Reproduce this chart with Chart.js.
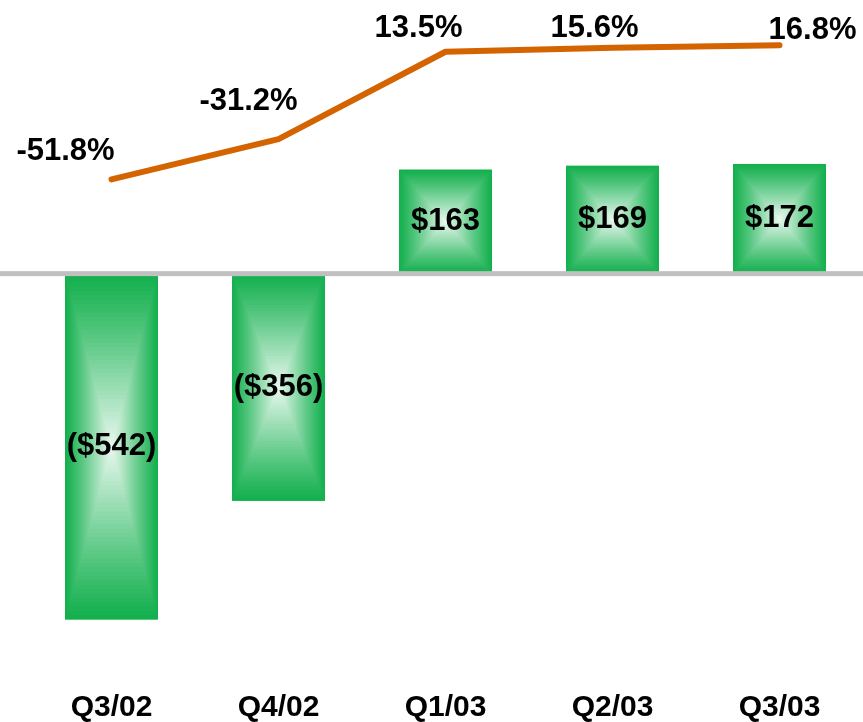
<!DOCTYPE html>
<html>
<head>
<meta charset="utf-8">
<script src="https://cdn.jsdelivr.net/npm/chart.js@4/dist/chart.umd.min.js"></script>
<style>
    html, body { margin: 0; padding: 0; background: #fff; }
</style>
</head>
<body>
<canvas id="chart" width="863" height="722"></canvas>
<script>
// Chart data
const quarters = ["Q3/02", "Q4/02", "Q1/03", "Q2/03", "Q3/03"];
const netIncome = [-542, -356, 163, 169, 172];
const marginPct = [-51.8, -31.2, 13.5, 15.6, 16.8];

// Where each % label sits relative to its point (dx, dy)
const pctLabelShift = [[-46, -28], [-30, -38], [-27, -23], [-18, -19], [33, -15]];

const FONT = "'Liberation Sans', Arial, sans-serif";
const GREEN = [20, 176, 78];
const PALE = [236, 249, 241];

const mix = (a, b, t) =>
    `rgb(${a.map((v, i) => Math.round(v + (b[i] - v) * t)).join(",")})`;

// Rectangular "from centre" fill over each bar
const boxGradient = {
    id: "boxGradient",
    afterDatasetDraw(chart, args) {
        if (args.index !== 0) return;
        const ctx = chart.ctx;
        const steps = 40;
        args.meta.data.forEach((bar) => {
            const left = bar.x - bar.width / 2;
            const top = Math.min(bar.y, bar.base);
            const h = Math.abs(bar.base - bar.y);
            const w = bar.width;
            for (let s = 0; s < steps; s++) {
                const t = s / steps;
                const ix = (w / 2) * t;
                const iy = (h / 2) * t;
                ctx.fillStyle = mix(GREEN, PALE, Math.pow(t, 1.1));
                ctx.fillRect(left + ix, top + iy, w - 2 * ix, h - 2 * iy);
            }
        });
        // zero line
        const y0 = chart.scales.y.getPixelForValue(0);
        ctx.fillStyle = "#c0c0c0";
        ctx.fillRect(0, y0 - 2.5, chart.width, 5);
    },
};

// Value labels for bars and line
const valueLabels = {
    id: "valueLabels",
    afterDatasetsDraw(chart) {
        const ctx = chart.ctx;
        ctx.save();
        ctx.font = `bold 31px ${FONT}`;
        ctx.fillStyle = "#000";
        ctx.textAlign = "center";
        ctx.textBaseline = "middle";

        chart.getDatasetMeta(0).data.forEach((bar, i) => {
            const v = netIncome[i];
            const txt = v < 0 ? `($${-v})` : `$${v}`;
            ctx.fillText(txt, bar.x, (bar.y + bar.base) / 2);
        });

        chart.getDatasetMeta(1).data.forEach((pt, i) => {
            const [dx, dy] = pctLabelShift[i];
            ctx.fillText(`${marginPct[i].toFixed(1)}%`, pt.x + dx, pt.y + dy);
        });
        ctx.restore();
    },
};

new Chart(document.getElementById("chart"), {
    type: "bar",
    data: {
        labels: quarters,
        datasets: [
            {
                type: "bar",
                data: netIncome,
                yAxisID: "y",
                backgroundColor: `rgb(${GREEN.join(",")})`,
                borderWidth: 0,
                categoryPercentage: 1,
                barPercentage: 0.556,
                order: 1,
            },
            {
                type: "line",
                data: marginPct,
                yAxisID: "y2",
                borderColor: "#d46400",
                borderWidth: 6,
                borderCapStyle: "round",
                borderJoinStyle: "round",
                pointRadius: 0,
                tension: 0,
                clip: false,
                order: 0,
            },
        ],
    },
    options: {
        responsive: false,
        animation: false,
        layout: { padding: { left: 28, right: 0, top: 0, bottom: -14 } },
        plugins: {
            legend: { display: false },
            tooltip: { enabled: false },
        },
        scales: {
            x: {
                grid: { display: false, drawTicks: false },
                border: { display: false },
                ticks: {
                    color: "#000",
                    padding: 13,
                    font: { family: FONT, size: 30, weight: "bold", lineHeight: 1 },
                },
            },
            y: { display: false, min: -637, max: 429 },
            y2: { display: false, min: -308, max: 40 },
        },
    },
    plugins: [boxGradient, valueLabels],
});
</script>
</body>
</html>
